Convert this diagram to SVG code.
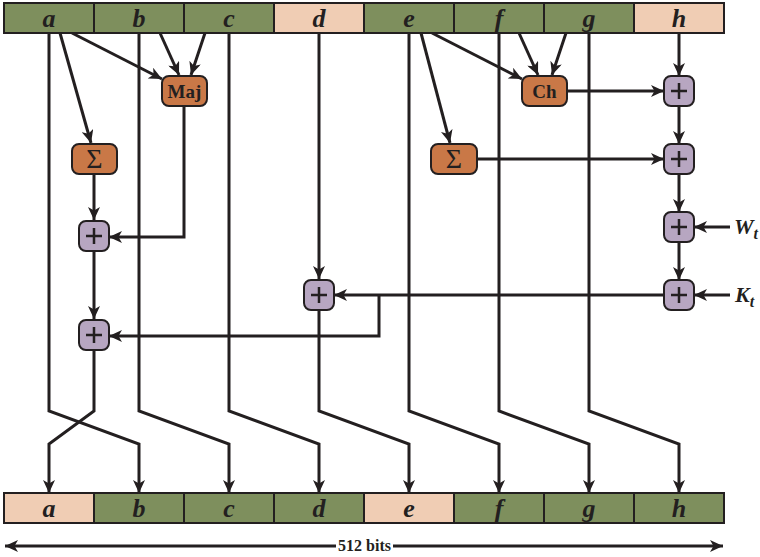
<svg xmlns="http://www.w3.org/2000/svg" width="760" height="557" viewBox="0 0 760 557">
<defs>
<marker id="ah" markerUnits="userSpaceOnUse" markerWidth="14" markerHeight="12" refX="13" refY="6" orient="auto">
<path d="M0,0 L13,6 L0,12 L3.5,6 z" fill="#231f20"/>
</marker>
<style>
.g{fill:#7e8f5d;stroke:#231f20;stroke-width:2}
.p{fill:#f0cdb4;stroke:#231f20;stroke-width:2}
.lt{font-family:"Liberation Serif",serif;font-weight:bold;font-style:italic;font-size:26px;fill:#231f20;text-anchor:middle}
.fn{fill:#c97847;stroke:#231f20;stroke-width:2}
.ad{fill:#b7a6c1;stroke:#231f20;stroke-width:2}
.pl{stroke:#231f20;stroke-width:2.5;fill:none}
.ft{font-family:"Liberation Serif",serif;font-weight:bold;font-size:19px;fill:#231f20;text-anchor:middle}
.sg{font-family:"Liberation Serif",serif;font-size:28px;fill:#231f20;text-anchor:middle}
.c{stroke:#231f20;stroke-width:3;fill:none;stroke-linejoin:miter}
.ca{stroke:#231f20;stroke-width:3;fill:none;marker-end:url(#ah)}
.io{font-family:"Liberation Serif",serif;font-weight:bold;font-style:italic;font-size:22px;fill:#231f20}
.bits{font-family:"Liberation Serif",serif;font-weight:bold;font-size:16px;fill:#231f20;text-anchor:middle}
</style>
</defs>
<rect width="760" height="557" fill="#ffffff"/>

<g id="connectors">
<path class="ca" d="M49,33 V411 L139,444 V493"/>
<path class="ca" d="M139,33 V411 L229,444 V493"/>
<path class="ca" d="M229,33 V411 L319,444 V493"/>
<path class="ca" d="M319,33 V279"/>
<path class="ca" d="M319,310 V411 L409,444 V493"/>
<path class="ca" d="M409,33 V411 L499,444 V493"/>
<path class="ca" d="M499,33 V411 L589,444 V493"/>
<path class="ca" d="M589,33 V411 L679,444 V493"/>
<path class="ca" d="M679,33 V76"/>
<path class="ca" d="M60,33 L91,143"/>
<path class="ca" d="M72,33 L162,79"/>
<path class="ca" d="M160,33 L179,75"/>
<path class="ca" d="M205,33 L191,75"/>
<path class="ca" d="M184,106 V237 H109"/>
<path class="ca" d="M94,174 V220"/>
<path class="ca" d="M94,251 V319"/>
<path class="ca" d="M94,350 V411 L49,444 V493"/>
<path class="ca" d="M421,33 L450,143"/>
<path class="ca" d="M432,33 L522,79"/>
<path class="ca" d="M519,33 L538,75"/>
<path class="ca" d="M566,33 L552,75"/>
<path class="ca" d="M567,91 H664"/>
<path class="ca" d="M477,159 H664"/>
<path class="ca" d="M679,106 V144"/>
<path class="ca" d="M679,174 V212"/>
<path class="ca" d="M679,242 V280"/>
<path class="ca" d="M730,227 H694"/>
<path class="ca" d="M730,295 H694"/>
<path class="ca" d="M664,295 H334"/>
<path class="ca" d="M379,295 V336 H109"/>
<path class="ca" d="M336,546 H5"/>
<path class="ca" d="M393,546 H723"/>
</g>

<g id="input">
<rect class="g" x="4" y="3" width="90" height="30"/>
<rect class="g" x="94" y="3" width="90" height="30"/>
<rect class="g" x="184" y="3" width="90" height="30"/>
<rect class="p" x="274" y="3" width="90" height="30"/>
<rect class="g" x="364" y="3" width="90" height="30"/>
<rect class="g" x="454" y="3" width="90" height="30"/>
<rect class="g" x="544" y="3" width="90" height="30"/>
<rect class="p" x="634" y="3" width="90" height="30"/>
<text class="lt" x="49" y="27">a</text>
<text class="lt" x="139" y="27">b</text>
<text class="lt" x="229" y="27">c</text>
<text class="lt" x="319" y="27">d</text>
<text class="lt" x="409" y="27">e</text>
<text class="lt" x="499" y="27">f</text>
<text class="lt" x="589" y="27">g</text>
<text class="lt" x="679" y="27">h</text>
</g>

<g id="output">
<rect class="p" x="4" y="493" width="90" height="30"/>
<rect class="g" x="94" y="493" width="90" height="30"/>
<rect class="g" x="184" y="493" width="90" height="30"/>
<rect class="g" x="274" y="493" width="90" height="30"/>
<rect class="p" x="364" y="493" width="90" height="30"/>
<rect class="g" x="454" y="493" width="90" height="30"/>
<rect class="g" x="544" y="493" width="90" height="30"/>
<rect class="g" x="634" y="493" width="90" height="30"/>
<text class="lt" x="49" y="517">a</text>
<text class="lt" x="139" y="517">b</text>
<text class="lt" x="229" y="517">c</text>
<text class="lt" x="319" y="517">d</text>
<text class="lt" x="409" y="517">e</text>
<text class="lt" x="499" y="517">f</text>
<text class="lt" x="589" y="517">g</text>
<text class="lt" x="679" y="517">h</text>
</g>

<g id="maj"><rect class="fn" x="162" y="76" width="45" height="30" rx="7"/><text class="ft" x="184.5" y="98">Maj</text></g>
<g id="ch"><rect class="fn" x="522" y="76" width="45" height="30" rx="7"/><text class="ft" x="544.5" y="98">Ch</text></g>
<g id="sigma0"><rect class="fn" x="72" y="144" width="45" height="30" rx="7"/><text class="sg" x="94.5" y="168">Σ</text></g>
<g id="sigma1"><rect class="fn" x="431" y="144" width="46" height="30" rx="7"/><text class="sg" x="454" y="168">Σ</text></g>

<g id="add-h1"><rect class="ad" x="664" y="76" width="30" height="30" rx="7"/><path class="pl" d="M671,91 H687 M679,83 V99"/></g>
<g id="add-h2"><rect class="ad" x="664" y="144" width="30" height="30" rx="7"/><path class="pl" d="M671,159 H687 M679,151 V167"/></g>
<g id="add-w"><rect class="ad" x="664" y="212" width="30" height="30" rx="7"/><path class="pl" d="M671,227 H687 M679,219 V235"/></g>
<g id="add-k"><rect class="ad" x="664" y="280" width="30" height="30" rx="7"/><path class="pl" d="M671,295 H687 M679,287 V303"/></g>
<g id="add-d"><rect class="ad" x="304" y="280" width="30" height="30" rx="7"/><path class="pl" d="M311,295 H327 M319,287 V303"/></g>
<g id="add-a1"><rect class="ad" x="79" y="221" width="30" height="30" rx="7"/><path class="pl" d="M86,236 H102 M94,228 V244"/></g>
<g id="add-a2"><rect class="ad" x="79" y="320" width="30" height="30" rx="7"/><path class="pl" d="M86,335 H102 M94,327 V343"/></g>

<g id="wt"><text class="io" x="734" y="234">W<tspan font-size="16" dy="5">t</tspan></text></g>
<g id="kt"><text class="io" x="735" y="302">K<tspan font-size="16" dy="5">t</tspan></text></g>
<g id="bits"><text class="bits" x="364.5" y="551">512 bits</text></g>
</svg>
